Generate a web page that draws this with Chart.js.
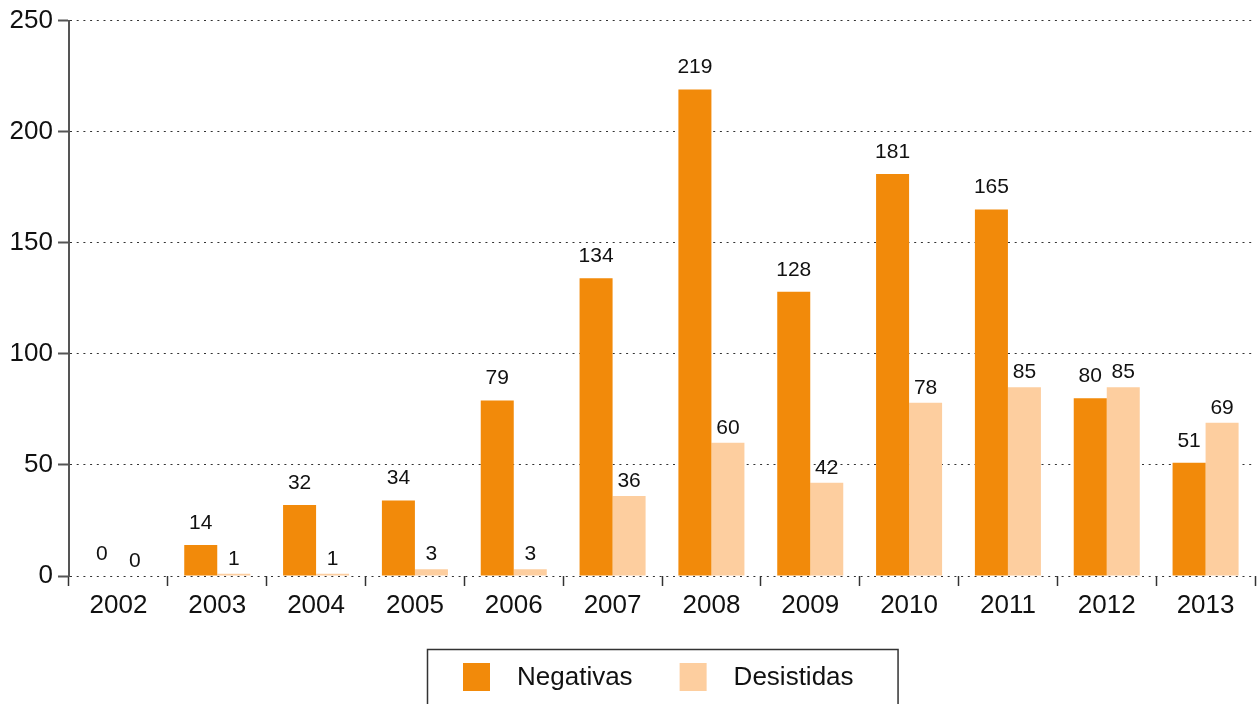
<!DOCTYPE html>
<html>
<head>
<meta charset="utf-8">
<script src="https://cdn.jsdelivr.net/npm/chart.js@4"></script>
<style>
  html, body { margin: 0; padding: 0; background: #fff; }
  #wrap { width: 1260px; height: 704px; }
</style>
</head>
<body>
<div id="wrap"><canvas id="chart" width="1260" height="704"></canvas></div>
<script>
// Data
const years = ["2002", "2003", "2004", "2005", "2006", "2007", "2008", "2009", "2010", "2011", "2012", "2013"];
const negativas = [0, 14, 32, 34, 79, 134, 219, 128, 181, 165, 80, 51];
const desistidas = [0, 1, 1, 3, 3, 36, 60, 42, 78, 85, 85, 69];
const seriesNames = ["Negativas", "Desistidas"];
const yTicks = [0, 50, 100, 150, 200, 250];

const fontFamily = "'Liberation Sans', Arial, Helvetica, sans-serif";
const orange = "#F28A0A";
const peach = "#FDCE9F";

// value labels above bars
const valueLabels = {
  id: "valueLabels",
  afterDatasetsDraw(chart) {
    const ctx = chart.ctx;
    const gaps = [16, 9];
    ctx.save();
    ctx.font = "21px " + fontFamily;
    ctx.fillStyle = "#111";
    ctx.textAlign = "center";
    ctx.textBaseline = "alphabetic";
    chart.data.datasets.forEach((ds, di) => {
      chart.getDatasetMeta(di).data.forEach((bar, i) => {
        ctx.fillText(String(ds.data[i]), bar.x, bar.y - gaps[di]);
      });
    });
    ctx.restore();
  }
};

// boxed legend under the axis
const boxLegend = {
  id: "boxLegend",
  afterDraw(chart) {
    const ctx = chart.ctx;
    const area = chart.chartArea;
    ctx.save();
    ctx.font = "26px " + fontFamily;
    const sw = 27, gapText = 27, gapItem = 47, padL = 36, padR = 44;
    const items = chart.data.datasets.map(ds => ({
      label: ds.label, color: ds.backgroundColor, w: ctx.measureText(ds.label).width
    }));
    let content = 0;
    items.forEach((it, k) => { content += sw + gapText + it.w + (k < items.length - 1 ? gapItem : 0); });
    const boxW = padL + content + padR;
    const cx = (area.left + area.right) / 2;
    const bx = Math.round(cx - boxW / 2);
    const by = 649;
    ctx.strokeStyle = "#333";
    ctx.lineWidth = 1.5;
    ctx.strokeRect(bx + 0.5, by + 0.5, boxW, 80);
    let x = bx + padL;
    const cy = 677;
    ctx.textBaseline = "middle";
    ctx.textAlign = "left";
    items.forEach(it => {
      ctx.fillStyle = it.color;
      ctx.fillRect(x, cy - 14, sw, 28);
      x += sw + gapText;
      ctx.fillStyle = "#111";
      ctx.fillText(it.label, x, cy + 1);
      x += it.w + gapItem;
    });
    ctx.restore();
  }
};

new Chart(document.getElementById("chart").getContext("2d"), {
  type: "bar",
  data: {
    labels: years,
    datasets: [
      { label: seriesNames[0], data: negativas, backgroundColor: orange, borderWidth: 0 },
      { label: seriesNames[1], data: desistidas, backgroundColor: peach, borderWidth: 0 }
    ]
  },
  options: {
    responsive: false,
    animation: false,
    layout: { padding: { left: 0, right: 5, top: 19, bottom: 0 } },
    plugins: {
      legend: { display: false },
      tooltip: { enabled: false }
    },
    datasets: { bar: { barPercentage: 1.0, categoryPercentage: 0.668 } },
    scales: {
      x: {
        grid: {
          drawOnChartArea: false,
          offset: true,
          tickLength: 10,
          tickColor: "#333",
          tickWidth: 1.5
        },
        border: { display: false },
        ticks: {
          padding: 4,
          color: "#111",
          font: { family: fontFamily, size: 26 }
        },
        afterFit: s => { s.height = 128; }
      },
      y: {
        min: 0,
        max: 250,
        afterBuildTicks: s => { s.ticks = yTicks.map(v => ({ value: v })); },
        grid: {
          color: "#333",
          lineWidth: 1,
          tickLength: 11,
          tickColor: "#555",
          tickWidth: 2,
          tickBorderDash: []
        },
        border: { display: true, color: "#555", width: 2, dash: [2, 4.7] },
        ticks: {
          padding: 5,
          color: "#111",
          font: { family: fontFamily, size: 26 }
        },
        afterFit: s => { s.width = 69; }
      }
    }
  },
  plugins: [valueLabels, boxLegend]
});
</script>
</body>
</html>
